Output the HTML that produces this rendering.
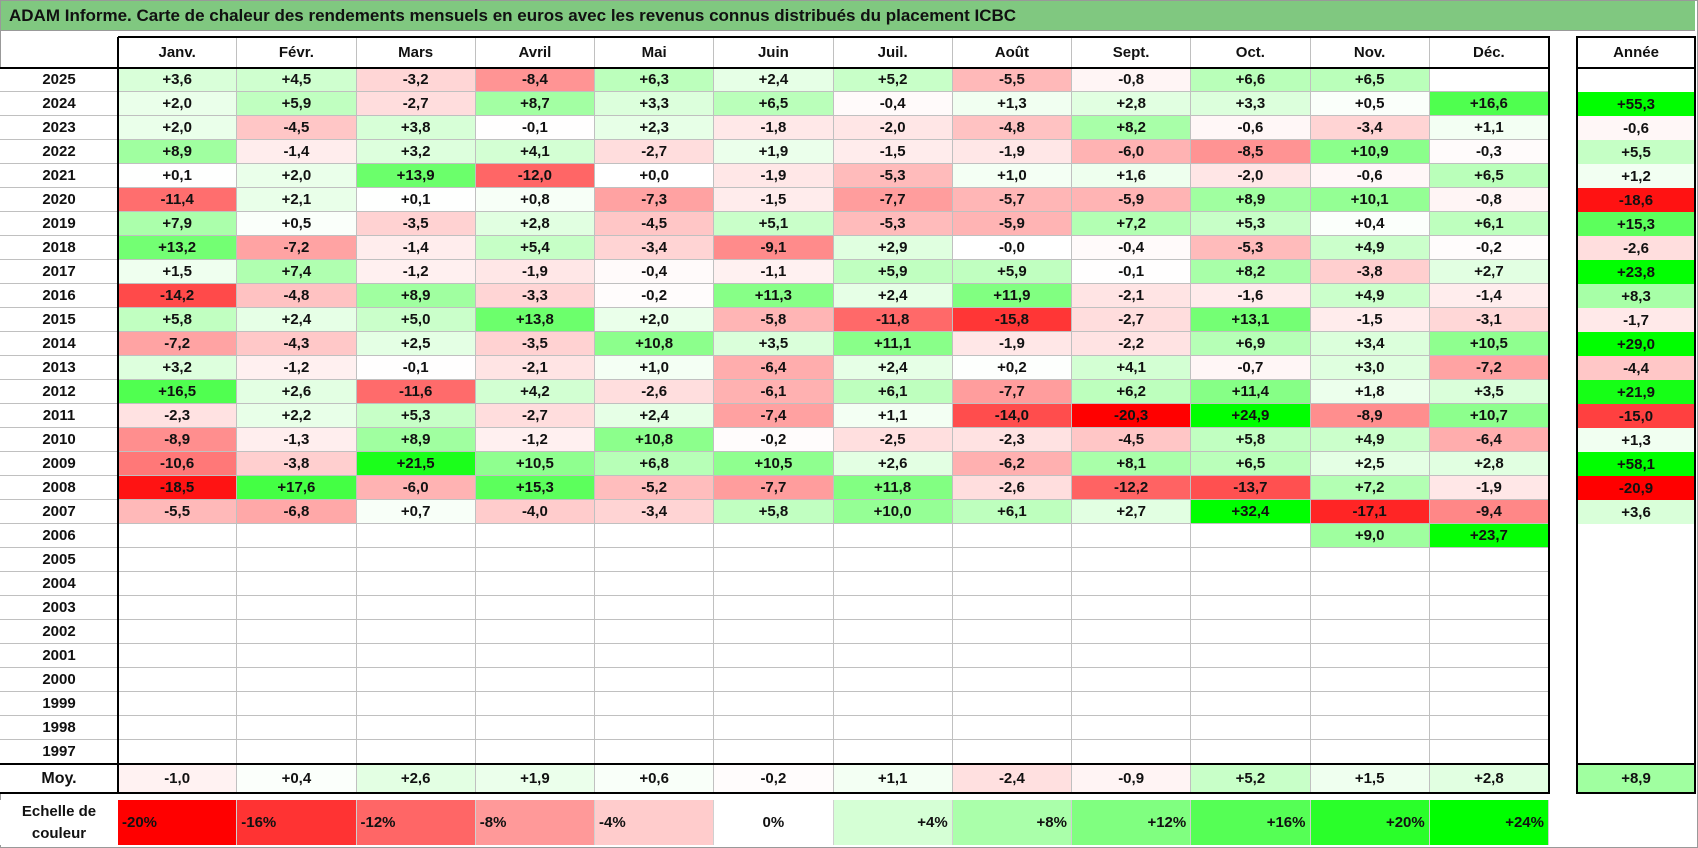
<!DOCTYPE html>
<html><head><meta charset="utf-8">
<style>
body{margin:0;background:#fff;}
#root{position:relative;width:1698px;height:848px;overflow:hidden;font-family:"Liberation Sans",Arial,sans-serif;font-weight:bold;color:#111;}
.c{position:absolute;box-sizing:border-box;display:flex;align-items:center;justify-content:center;font-size:15px;}
.ln{position:absolute;background:#000;}
</style></head>
<body>
<div id="root">
<div style="position:absolute;left:0;top:0;width:1698px;height:848px;box-sizing:border-box;border:1px solid #999;"></div>
<div class="c" style="left:1px;top:1px;width:1694px;height:30px;background:#80c880;justify-content:flex-start;padding-left:8px;font-size:17px;border-bottom:1px solid #999;">ADAM Informe. Carte de chaleur des rendements mensuels en euros avec les revenus connus distribués du placement ICBC</div>
</div>
<script>
const months=["Janv.","Févr.","Mars","Avril","Mai","Juin","Juil.","Août","Sept.","Oct.","Nov.","Déc."];
const years=[2025,2024,2023,2022,2021,2020,2019,2018,2017,2016,2015,2014,2013,2012,2011,2010,2009,2008,2007,2006,2005,2004,2003,2002,2001,2000,1999,1998,1997];
const N=null;
const monthly=[
[3.6,4.5,-3.2,-8.4,6.3,2.4,5.2,-5.5,-0.8,6.6,6.5,N],
[2.0,5.9,-2.7,8.7,3.3,6.5,-0.4,1.3,2.8,3.3,0.5,16.6],
[2.0,-4.5,3.8,-0.1,2.3,-1.8,-2.0,-4.8,8.2,-0.6,-3.4,1.1],
[8.9,-1.4,3.2,4.1,-2.7,1.9,-1.5,-1.9,-6.0,-8.5,10.9,-0.3],
[0.1,2.0,13.9,-12.0,0.0,-1.9,-5.3,1.0,1.6,-2.0,-0.6,6.5],
[-11.4,2.1,0.1,0.8,-7.3,-1.5,-7.7,-5.7,-5.9,8.9,10.1,-0.8],
[7.9,0.5,-3.5,2.8,-4.5,5.1,-5.3,-5.9,7.2,5.3,0.4,6.1],
[13.2,-7.2,-1.4,5.4,-3.4,-9.1,2.9,-0.0,-0.4,-5.3,4.9,-0.2],
[1.5,7.4,-1.2,-1.9,-0.4,-1.1,5.9,5.9,-0.1,8.2,-3.8,2.7],
[-14.2,-4.8,8.9,-3.3,-0.2,11.3,2.4,11.9,-2.1,-1.6,4.9,-1.4],
[5.8,2.4,5.0,13.8,2.0,-5.8,-11.8,-15.8,-2.7,13.1,-1.5,-3.1],
[-7.2,-4.3,2.5,-3.5,10.8,3.5,11.1,-1.9,-2.2,6.9,3.4,10.5],
[3.2,-1.2,-0.1,-2.1,1.0,-6.4,2.4,0.2,4.1,-0.7,3.0,-7.2],
[16.5,2.6,-11.6,4.2,-2.6,-6.1,6.1,-7.7,6.2,11.4,1.8,3.5],
[-2.3,2.2,5.3,-2.7,2.4,-7.4,1.1,-14.0,-20.3,24.9,-8.9,10.7],
[-8.9,-1.3,8.9,-1.2,10.8,-0.2,-2.5,-2.3,-4.5,5.8,4.9,-6.4],
[-10.6,-3.8,21.5,10.5,6.8,10.5,2.6,-6.2,8.1,6.5,2.5,2.8],
[-18.5,17.6,-6.0,15.3,-5.2,-7.7,11.8,-2.6,-12.2,-13.7,7.2,-1.9],
[-5.5,-6.8,0.7,-4.0,-3.4,5.8,10.0,6.1,2.7,32.4,-17.1,-9.4],
[N,N,N,N,N,N,N,N,N,N,9.0,23.7]
];
const annual=[N,55.3,-0.6,5.5,1.2,-18.6,15.3,-2.6,23.8,8.3,-1.7,29.0,-4.4,21.9,-15.0,1.3,58.1,-20.9,3.6,N];
const averages=[-1.0,0.4,2.6,1.9,0.6,-0.2,1.1,-2.4,-0.9,5.2,1.5,2.8];
const avgAnnual=8.9;
const scaleLabels=["-20%","-16%","-12%","-8%","-4%","0%","+4%","+8%","+12%","+16%","+20%","+24%"];
const scaleValues=[-20,-16,-12,-8,-4,0,4,8,12,16,20,24];

const root=document.getElementById('root');
const X0=118,CW=119.25,AX=1577,AW=118,TOP=37,HH=31,RH=24;
const bodyTop=TOP+HH, moyTop=bodyTop+years.length*RH, moyH=29, scTop=800, scH=45;
function color(v){
  if(v===null||v===undefined)return '#fff';
  let r,g,b;
  if(v<0){const t=Math.min(1,-v/20);r=255;g=b=Math.round(255*(1-t));}
  else{const t=Math.min(1,v/24);g=255;r=b=Math.round(255*(1-t));}
  return `rgb(${r},${g},${b})`;
}
function fmt(v){const neg=v<0||Object.is(v,-0);return (neg?'-':'+')+Math.abs(v).toFixed(1).replace('.',',');}
function cell(x,y,w,h,txt,bg,border){
  const d=document.createElement('div');d.className='c';
  d.style.cssText=`left:${x}px;top:${y}px;width:${w}px;height:${h}px;background:${bg};`+(border?'border-right:1px solid #c0c0c0;border-bottom:1px solid #c0c0c0;':'');
  d.textContent=txt;root.appendChild(d);return d;
}
function line(x,y,w,h){const d=document.createElement('div');d.className='ln';d.style.cssText=`left:${x}px;top:${y}px;width:${w}px;height:${h}px;`;


root.appendChild(d);}
const mx=i=>X0+i*CW;
months.forEach((m,i)=>{const d=cell(mx(i),TOP,CW,HH,m,'#fff',true);

});
{const d=cell(AX,TOP,AW,HH,'Année','#fff',false);

}
years.forEach((y,r)=>{
  const yy=bodyTop+r*RH;
  const lab=cell(0,yy,X0,RH,String(y),'#fff',false);
  lab.style.borderBottom='1px solid #c0c0c0';
  
  
  const row=monthly[r]||[];
  for(let i=0;i<12;i++){
    const v=row[i];const has=v!==null&&v!==undefined;
    const d=cell(mx(i),yy,CW,RH,has?fmt(v):'',has?color(v):'#fff',true);
    
    
  }
  const a=annual[r];const ha=a!==null&&a!==undefined;
  const d=cell(AX,yy,AW,RH,ha?fmt(a):'',ha?color(a):'#fff',false);
  
  
});
{const d=cell(0,moyTop,X0,moyH,'Moy.','#fff',false);d.style.fontSize='16px';

}
averages.forEach((v,i)=>{const d=cell(mx(i),moyTop,CW,moyH,fmt(v),color(v),true);d.style.borderBottom='none';

});
{const d=cell(AX,moyTop,AW,moyH,fmt(avgAnnual),color(avgAnnual),false);

}
{const d=cell(0,scTop,X0,scH,'','#fff',false);d.innerHTML='Echelle de<br>couleur';d.style.textAlign='center';d.style.lineHeight='22px';d.style.fontSize='15px';

}
scaleValues.forEach((v,i)=>{
  const d=cell(mx(i),scTop,CW,scH,scaleLabels[i],color(v),false);
  d.style.borderRight='1px solid #d0d0d0';
  d.style.justifyContent=v<0?'flex-start':(v>0?'flex-end':'center');
  d.style.padding='0 4px';
  
  
});
// black borders
const R=X0+12*CW;
line(X0,TOP-1,R-X0+1,2);
line(0,bodyTop-1,R+1,2);
line(0,moyTop-1,R+1,2);
line(0,moyTop+moyH-1,R+1,2);
line(X0-1,TOP,2,moyTop+moyH-TOP);
line(R-1,TOP,2,moyTop+moyH-TOP);
line(AX-1,TOP-1,AW+2,2);
line(AX-1,bodyTop-1,AW+2,2);
line(AX-1,moyTop-1,AW+2,2);
line(AX-1,moyTop+moyH-1,AW+2,2);
line(AX-1,TOP,2,moyTop+moyH-TOP);
line(AX+AW-1,TOP,2,moyTop+moyH-TOP);
</script>
</body></html>
